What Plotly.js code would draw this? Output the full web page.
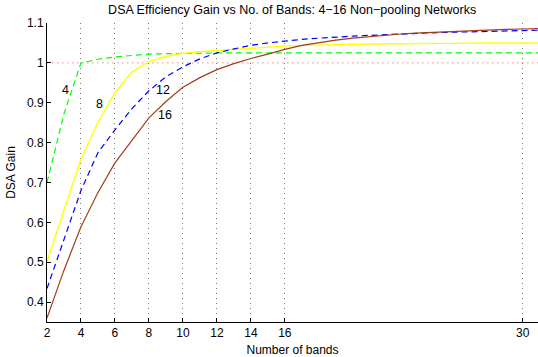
<!DOCTYPE html>
<html>
<head>
<meta charset="utf-8">
<script src="https://cdn.plot.ly/plotly-3.0.1.min.js"></script>
<style>html,body{margin:0;padding:0;background:#fff;}#chart{width:538px;height:357px;}</style>
</head>
<body>
<div id="chart"></div>
<script>
// Number of bands
const bands = [2,3,4,5,6,7,8,9,10,11,12,13,14,15,16,17,18,19,20,21,22,23,24,25,26,27,28,29,30,31];
// DSA gain for 4, 8, 12, 16 non-pooling networks
const gain4  = [0.700,0.872,1.000,1.009,1.015,1.019,1.022,1.023,1.024,1.025,1.025,1.025,1.025,1.025,1.025,1.025,1.025,1.025,1.025,1.025,1.025,1.025,1.025,1.025,1.025,1.025,1.025,1.025,1.025,1.025];
const gain8  = [0.502,0.632,0.759,0.851,0.925,0.977,1.003,1.016,1.024,1.028,1.031,1.034,1.037,1.040,1.042,1.044,1.045,1.046,1.047,1.048,1.048,1.048,1.049,1.049,1.049,1.050,1.050,1.050,1.050,1.050];
const gain12 = [0.434,0.555,0.680,0.775,0.832,0.885,0.930,0.965,0.990,1.010,1.025,1.035,1.044,1.050,1.055,1.059,1.062,1.065,1.067,1.069,1.071,1.073,1.075,1.076,1.077,1.078,1.079,1.080,1.081,1.082];
const gain16 = [0.360,0.480,0.589,0.675,0.749,0.806,0.862,0.903,0.939,0.963,0.983,0.998,1.011,1.022,1.034,1.044,1.051,1.057,1.062,1.066,1.070,1.073,1.075,1.077,1.079,1.081,1.083,1.084,1.085,1.086];
const refX = [2, 31];
const refY = [1, 1];
const xTicks = [2,4,6,8,10,12,14,16,30];
const yTicks = [0.4,0.5,0.6,0.7,0.8,0.9,1,1.1];
const labelText = ["4","8","12","16"];
const labelX = [3.08, 5.08, 8.8, 8.92];
const labelY = [0.933, 0.898, 0.933, 0.868];

const font = "Liberation Sans, Arial, Helvetica, sans-serif";
const traces = [
  {x: refX, y: refY, mode: "lines", line: {color: "rgb(240,140,140)", width: 1, dash: "1.5px,3.5px"}, hoverinfo: "skip"},
  {x: bands, y: gain4, mode: "lines", line: {color: "#00ff00", width: 1.2, dash: "6px,4px"}},
  {x: bands, y: gain8, mode: "lines", line: {color: "#ffff00", width: 1.4}},
  {x: bands, y: gain12, mode: "lines", line: {color: "#0000ff", width: 1.2, dash: "6px,4px"}},
  {x: bands, y: gain16, mode: "lines", line: {color: "#a23c1a", width: 1.2}}
];
const annotations = labelText.map((t, i) => ({
  x: labelX[i], y: labelY[i], xref: "x", yref: "y", text: t, showarrow: false,
  font: {family: font, size: 12.5, color: "#000"}
}));
const layout = {
  width: 538, height: 357,
  margin: {l: 47, r: 0, t: 23, b: 35},
  paper_bgcolor: "#fff", plot_bgcolor: "#fff",
  showlegend: false,
  font: {family: font, size: 12, color: "#000"},
  title: {text: "DSA Efficiency Gain vs No. of Bands: 4\u221216 Non\u2212pooling Networks", font: {family: font, size: 12.5, color: "#000"}, x: 0.543, xanchor: "center", y: 0.972, yanchor: "middle"},
  xaxis: {
    range: [2, 30.9], tickvals: xTicks, ticktext: xTicks.map(String),
    ticks: "inside", ticklen: 4, tickcolor: "#000", tickwidth: 1,
    showline: true, linecolor: "#000", linewidth: 1, mirror: false,
    showgrid: true, gridcolor: "#777", griddash: "1px,4px", gridwidth: 1,
    zeroline: false,
    title: {text: "Number of bands", font: {family: font, size: 12}, standoff: 6},
    tickfont: {family: font, size: 12}
  },
  yaxis: {
    range: [0.35, 1.1], tickvals: yTicks, ticktext: ["0.4","0.5","0.6","0.7","0.8","0.9","1","1.1"],
    ticks: "inside", ticklen: 4, tickcolor: "#000", tickwidth: 1,
    showline: true, linecolor: "#000", linewidth: 1, mirror: false,
    showgrid: false, zeroline: false,
    title: {text: "DSA Gain", font: {family: font, size: 12}, standoff: 8},
    tickfont: {family: font, size: 12}
  },
  annotations: annotations
};
Plotly.newPlot("chart", traces, layout, {staticPlot: true, displayModeBar: false});
</script>
</body>
</html>
